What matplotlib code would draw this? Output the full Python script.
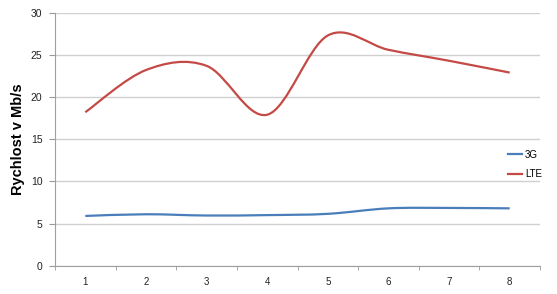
import matplotlib
matplotlib.use("Agg")
import matplotlib.pyplot as plt
from matplotlib.path import Path
from matplotlib.patches import PathPatch
from matplotlib.lines import Line2D
import numpy as np

# data
categories = [1, 2, 3, 4, 5, 6, 7, 8]
speed_3g = [5.9, 6.1, 5.95, 6.0, 6.15, 6.8, 6.85, 6.8]
speed_lte = [18.2, 23.2, 23.7, 17.9, 27.3, 25.6, 24.3, 22.9]
y_ticks = [0, 5, 10, 15, 20, 25, 30]

COL_3G = '#4a7ebb'
COL_LTE = '#c44a46'

plt.rcParams['font.family'] = ['Liberation Sans', 'DejaVu Sans']


def smooth_path(xs, ys):
    # Excel-style smoothed line: cubic bezier segments with catmull-rom control points
    pts = np.column_stack([xs, ys]).astype(float)
    n = len(pts)
    verts = [pts[0]]
    codes = [Path.MOVETO]
    for i in range(n - 1):
        p0 = pts[i - 1] if i > 0 else pts[i]
        p1 = pts[i]
        p2 = pts[i + 1]
        p3 = pts[i + 2] if i + 2 < n else pts[i + 1]
        c1 = p1 + (p2 - p0) / 6.0
        c2 = p2 - (p3 - p1) / 6.0
        verts += [c1, c2, p2]
        codes += [Path.CURVE4] * 3
    return Path(verts, codes)


fig = plt.figure(figsize=(5.57, 2.94), dpi=100)
ax = fig.add_axes([55 / 557, 28.3 / 294, 485 / 557, 253 / 294])

for vals, col in [(speed_3g, COL_3G), (speed_lte, COL_LTE)]:
    ax.add_patch(PathPatch(smooth_path(categories, vals), facecolor='none',
                           edgecolor=col, linewidth=1.6, capstyle='butt'))

ax.set_xlim(0.5, 8.5)
ax.set_ylim(0, 30)
ax.set_yticks(y_ticks)
ax.set_xticks(categories)
ax.set_xticks(np.arange(0.5, 9.0, 1.0), minor=True)
ax.tick_params(axis='x', which='major', length=0, pad=8, labelsize=7, labelcolor='#222222')
ax.tick_params(axis='x', which='minor', length=3, color='#999999', direction='out')
ax.tick_params(axis='y', length=4, color='#999999', labelsize=7.5, labelcolor='#222222', pad=5)

ax.yaxis.grid(True, color='#d0d0d0', linewidth=1.0)
ax.set_axisbelow(True)
for s in ['top', 'right']:
    ax.spines[s].set_visible(False)
for s in ['left', 'bottom']:
    ax.spines[s].set_color('#a0a0a0')
    ax.spines[s].set_linewidth(0.8)

ax.set_ylabel('Rychlost v Mb/s', fontsize=10.5, fontweight='bold', labelpad=4)

handles = [Line2D([], [], color=COL_3G, linewidth=1.6),
           Line2D([], [], color=COL_LTE, linewidth=1.6)]
ax.legend(handles, ['3G', 'LTE'], loc='center left', bbox_to_anchor=(0.925, 0.40),
          frameon=False, fontsize=7, handlelength=1.5, handletextpad=0.3,
          labelspacing=1.0, borderaxespad=0)

fig.savefig('out.png', dpi=100)
